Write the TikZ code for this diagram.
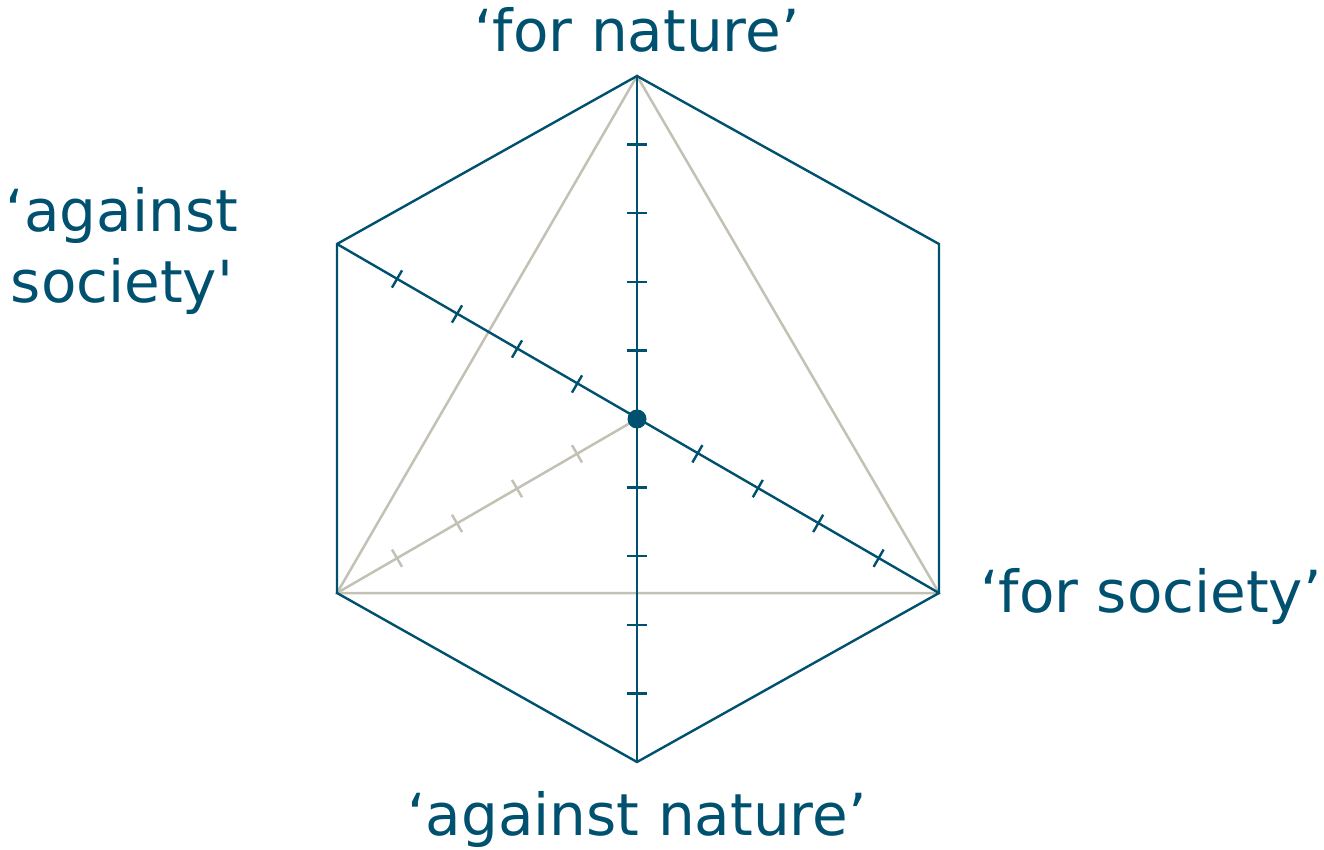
\documentclass[tikz,border=0pt]{standalone}
\usepackage{fontspec}
\setmainfont{DejaVu Sans}
\newfontfamily\lblfont{DejaVu Sans}
\usetikzlibrary{calc}
\definecolor{axisblue}{HTML}{00506F}
\definecolor{lightgray}{HTML}{C3C0B4}
\begin{document}
\begin{tikzpicture}[x=1pt,y=-1pt,
  blueline/.style={draw=axisblue,line width=2.4pt},
  grayline/.style={draw=lightgray,line width=2.5pt},
  lbl/.style={text=axisblue,font=\lblfont\fontsize{58}{70}\selectfont,inner sep=0pt}]
\useasboundingbox (0,0) rectangle (1324,850);
\coordinate (C) at (637,419);
\coordinate (T) at (637,76);
\coordinate (B) at (637,762);
\coordinate (UL) at (337,244);
\coordinate (UR) at (939,244);
\coordinate (LL) at (337,593);
\coordinate (LR) at (939,593);
% gray triangle and gray axis
\draw[grayline,line join=miter] (T) -- (LL) -- (LR) -- cycle;
\draw[grayline] (C) -- (LL);
\foreach \k in {1,...,4}{
  \coordinate (P) at ($(C)!\k/5!(LL)$);
  \draw[grayline] ($(P)!10pt!90:(LL)$) -- ($(P)!10pt!-90:(LL)$);
}
% hexagon
\draw[blueline,line join=miter] (T) -- (UR) -- (LR) -- (B) -- (LL) -- (UL) -- cycle;
% axes
\draw[blueline] (T) -- (B);
\draw[blueline] (UL) -- (LR);
\foreach \k in {1,...,4}{
  \coordinate (P) at ($(C)!\k/5!(T)$);
  \draw[blueline] ($(P)!10pt!90:(T)$) -- ($(P)!10pt!-90:(T)$);
  \coordinate (P) at ($(C)!\k/5!(B)$);
  \draw[blueline] ($(P)!10pt!90:(B)$) -- ($(P)!10pt!-90:(B)$);
  \coordinate (P) at ($(C)!\k/5!(UL)$);
  \draw[blueline] ($(P)!10pt!90:(UL)$) -- ($(P)!10pt!-90:(UL)$);
  \coordinate (P) at ($(C)!\k/5!(LR)$);
  \draw[blueline] ($(P)!10pt!90:(LR)$) -- ($(P)!10pt!-90:(LR)$);
}
\fill[axisblue] (C) circle (9.5pt);
% labels
\node[lbl,anchor=base] (fn) at (637,52) {‘for nature’};
\node[lbl,anchor=base] (an) at (637,835) {‘against nature’};
\node[lbl,anchor=base] (fs) at (1151,612) {‘for society’};
\node[lbl,anchor=base] (as1) at (122,232) {‘against};
\node[lbl,anchor=base] (as2) at (122,302) {society'};
\end{tikzpicture}
\end{document}
